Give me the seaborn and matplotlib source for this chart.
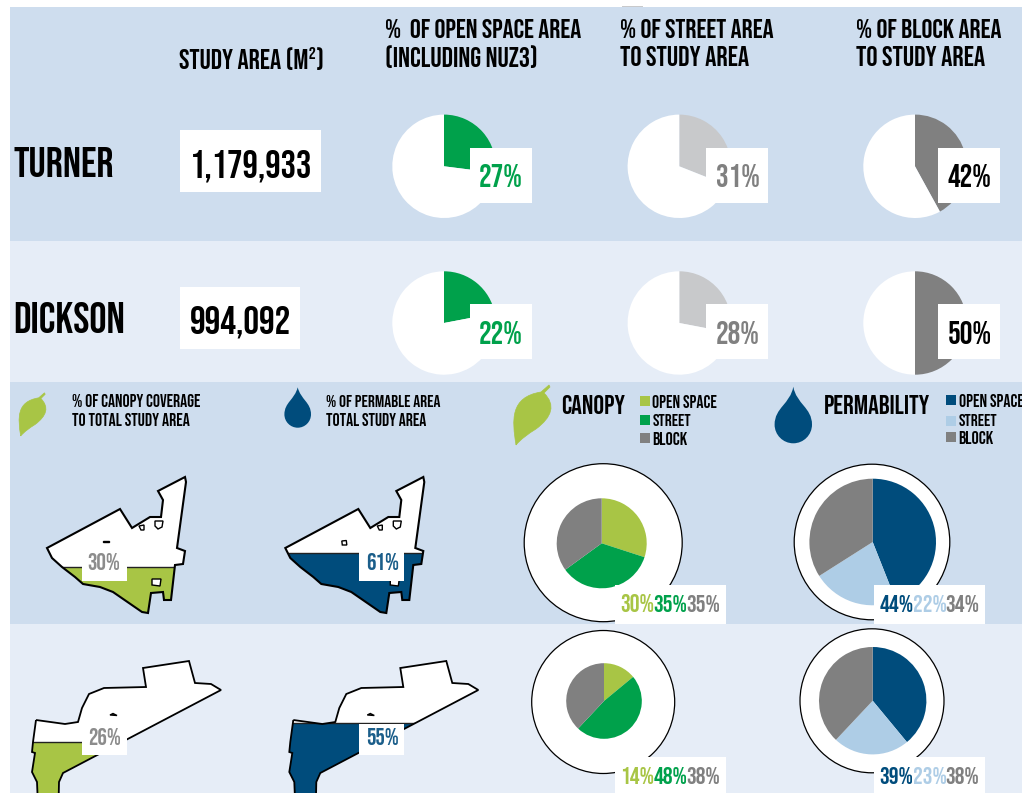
import matplotlib
matplotlib.use("Agg")
import matplotlib.pyplot as plt
from matplotlib.patches import Rectangle, Polygon, Circle, PathPatch
from matplotlib.path import Path
import seaborn as sns

# values
suburbs = ["TURNER", "DICKSON"]
study_area = ["1,179,933", "994,092"]
open_space_pct = [27, 22]
street_pct = [31, 28]
block_pct = [42, 50]
canopy_cover_pct = [30, 26]
permeable_pct = [61, 55]
canopy_split = [[30, 35, 35], [14, 48, 38]]
permability_split = [[44, 22, 34], [39, 23, 38]]

W, H = 1022, 793
BLUE_BG = "#CEDDEE"
PALE_BG = "#E6EDF7"
GREEN = "#00A14B"
LIME = "#A8C545"
GREY = "#808080"
PALE_GREY = "#C8C9CB"
NAVY = "#004C7C"
SKY = "#AECDE6"
canopy_colors = sns.color_palette([LIME, GREEN, GREY])
perm_colors = sns.color_palette([NAVY, SKY, GREY])

sns.set_theme(style="white")
plt.rcParams["font.family"] = ["Bebas Neue", "Barlow Condensed", "Roboto", "DejaVu Sans"]

fig = plt.figure(figsize=(W / 100, H / 100), dpi=100, facecolor="white")
ax = fig.add_axes([0, 0, 1, 1])
renderer = fig.canvas.get_renderer()


def put(x, base, s, width, color="black"):
    # real text, sized so that its width fits the reference
    t = ax.text(x, base, s, ha="left", va="baseline", fontsize=20,
                fontweight="bold", color=color, zorder=5)
    t.set_fontsize(20 * width / t.get_window_extent(renderer).width)
    return t


def box(x0, y0, x1, y1, color="white"):
    ax.add_patch(Rectangle((x0, y0), x1 - x0, y1 - y0, fc=color, ec="none"))


def pie(cx, cy, r, values, colors):
    # y axis is flipped, so this runs clockwise from 12 o'clock
    ax.pie(values, colors=colors, center=(cx, cy), radius=r, startangle=-90,
           counterclock=True, frame=True, wedgeprops={"linewidth": 0})


def leaf(x, y, k):
    verts = [(0, 0), (-4, -25), (-6, -48), (25, -53), (33, -60), (34, -58), (28, -52),
             (40, -40), (36, -28), (20, -16), (12, -11), (5, -6), (0, 0)]
    codes = [Path.MOVETO] + [Path.CURVE4] * 3 + [Path.LINETO] * 3 + [Path.CURVE4] * 6
    pts = [(x + a * k, y + b * k) for a, b in verts]
    ax.add_patch(PathPatch(Path(pts, codes), fc=LIME, ec=LIME, lw=0.5))


def drop(x, top, bottom, r):
    c = bottom - r
    verts = [(x, top), (x + 3, top + (c - top) * 0.45), (x + r, c - r * 0.9), (x + r, c),
             (x + r, c + r * 0.55), (x + r * 0.55, bottom), (x, bottom),
             (x - r * 0.55, bottom), (x - r, c + r * 0.55), (x - r, c),
             (x - r, c - r * 0.9), (x - 3, top + (c - top) * 0.45), (x, top)]
    codes = [Path.MOVETO] + [Path.CURVE4] * 12
    ax.add_patch(PathPatch(Path(verts, codes), fc=NAVY, ec="none"))


# outlines of the two study areas, as traced
turner_shape = [(47, 548), (120, 509), (132, 528), (150, 517), (161, 517), (163, 500),
                (158, 491), (185, 477), (186, 482), (177, 548), (185, 551), (183, 564),
                (175, 565), (171, 600), (164, 600), (163, 592), (151, 593), (148, 613),
                (142, 612), (113, 592), (100, 587), (83, 584), (75, 577), (62, 567),
                (52, 558)]
turner_holes = [[(139, 526), (144, 525), (144, 530), (141, 530)],
                [(155, 521), (163, 521), (162, 527), (158, 529), (155, 526)],
                [(152, 579), (161, 579), (160, 586), (152, 585)]]
dickson_shape = [(36, 720), (65, 724), (78, 722), (82, 708), (89, 694), (104, 688),
                 (146, 687), (143, 668), (189, 661), (195, 683), (211, 684), (221, 690),
                 (63, 773), (59, 782), (58, 830), (39, 830), (37, 782), (32, 772),
                 (35, 753), (32, 752), (33, 742)]


def study_map(shape, holes, dx, level, color, lw=1.5):
    pts = [(x + dx, y) for x, y in shape]
    ax.add_patch(Polygon(pts, fc="white", ec="none"))
    fill = Rectangle((dx, level), 260, 300, fc=color, ec="#222222", lw=1)
    ax.add_patch(fill)
    fill.set_clip_path(Polygon(pts, transform=ax.transData))
    ax.add_patch(Polygon(pts, fc="none", ec="black", lw=lw, joinstyle="miter"))
    for hole in holes:
        ax.add_patch(Polygon([(x + dx, y) for x, y in hole], fc="white", ec="black", lw=1))


# panels
box(10, 7, W, 241, BLUE_BG)
box(10, 241, W, 382, PALE_BG)
box(10, 382, W, 624, BLUE_BG)
box(10, 624, W, H, PALE_BG)
box(622, 5.5, 643, 7, PALE_GREY)

# column headers
put(179, 68.5, "STUDY AREA (M²)", 145)
put(385, 37.5, "%  OF OPEN SPACE AREA", 197)
put(385, 66.5, "(INCLUDING NUZ3)", 153)
put(620, 37.5, "% OF STREET AREA", 153)
put(620, 66.5, "TO STUDY AREA", 129)
put(856, 37.5, "% OF BLOCK AREA", 146)
put(856, 66.5, "TO STUDY AREA", 129)

# top rows: one line per suburb
row_pie_y = [166.3, 323]
row_base = [177, 333.3]
row_pct_base = [187.3, 344.3]
row_box_y = [(148, 203), (304, 359)]
area_box = [(180, 321, 130, 192), (180, 300, 287, 349)]
area_text = [(189.5, 122.5), (189.5, 102)]
name_width = [100, 112]
for i in range(2):
    put(13, row_base[i], suburbs[i], name_width[i])
    x0, x1, y0, y1 = area_box[i]
    box(x0, y0, x1, y1)
    put(area_text[i][0], row_base[i], study_area[i], area_text[i][1])
    columns = [(444, open_space_pct[i], GREEN, GREEN, 470, 479),
               (679.3, street_pct[i], PALE_GREY, GREY, 706, 715.7),
               (915, block_pct[i], GREY, "black", 938, 947.3)]
    for cx, p, c, tc, bx, tx in columns:
        pie(cx, row_pie_y[i], 51.7, [p, 100 - p], [c, "white"])
        box(bx, row_box_y[i][0], bx + 62, row_box_y[i][1])
        put(tx, row_pct_base[i], f"{p}%", 44, tc)

# lower header band
leaf(20.7, 436, 0.72)
drop(297.7, 387.3, 427.7, 13.3)
put(71.7, 407.2, "% OF CANOPY COVERAGE", 128)
put(71.7, 425.5, "TO TOTAL STUDY AREA", 116.5)
put(325.7, 407.2, "% OF PERMABLE AREA", 113.5)
put(325.7, 425.5, "TOTAL STUDY AREA", 100)

leaf(516, 445, 1)
drop(793.3, 386.7, 443.3, 18.7)
put(561, 414, "CANOPY", 64)
put(824.3, 414, "PERMABILITY", 106)

legend_names = ["OPEN SPACE", "STREET", "BLOCK"]
legend_width = [64, 38, 35]
for name, c, sq, base, w in zip(legend_names, canopy_colors, [396, 415, 433],
                                [408.5, 426.5, 445], legend_width):
    box(640, sq, 650, sq + 10, c)
    put(652.5, base, name, w)
for name, c, sq, base, w in zip(legend_names, perm_colors, [395, 415.5, 432],
                                [407.2, 426.5, 444], legend_width):
    box(946, sq, 956, sq + 10, c)
    put(958.7, base, name, w)

# maps
study_map(turner_shape, turner_holes + [[(103, 541), (108.5, 541), (108.5, 541.8), (103, 541.8)]],
          0, 566.7, LIME)
study_map(turner_shape, turner_holes + [[(103.5, 541), (108, 540.5), (108.5, 545), (104, 545)]],
          238.3, 552.7, NAVY)
study_map(dickson_shape, [[(110, 715), (113, 713.5), (117, 715.5)]], 0, 742.3, LIME, lw=1.3)
study_map(dickson_shape, [[(110, 715), (113, 713.5), (117, 715.5)]], 257.3, 723.3, NAVY, lw=1.3)

box(82, 552, 127, 581)
box(359, 552, 404, 581)
box(82, 724, 127, 755)
box(359, 724, 404, 755)
put(87.7, 570.5, f"{canopy_cover_pct[0]}%", 33, "#8C8C8C")
put(365.7, 570.5, f"{permeable_pct[0]}%", 33, "#1B5E8A")
put(87.7, 745, f"{canopy_cover_pct[1]}%", 33, "#8C8C8C")
put(365.7, 745, f"{permeable_pct[1]}%", 33, "#1B5E8A")

# ringed pies
ring_rows = [
    (canopy_split[0], canopy_colors, 603.2, 542.7, 79, 601.7, 543.3, 45, 615, 585, 623.5, 620.5, 612.5),
    (permability_split[0], perm_colors, 872, 542, 77.8, 872.7, 542, 63.3, 874, 585, 623.5, 879.5, 612.5),
    (canopy_split[1], canopy_colors, 603.2, 702, 71.5, 604, 701, 37.8, 615, 757, H, 620.5, 784.5),
    (permability_split[1], perm_colors, 872, 700.8, 72, 872.7, 700.7, 53.7, 874, 757, H, 879.5, 784.5),
]
label_colors = {id(canopy_colors): [LIME, GREEN, GREY], id(perm_colors): [NAVY, SKY, GREY]}
for vals, cols, rx, ry, rr, px, py, pr, bx, by0, by1, tx, base in ring_rows:
    ax.add_patch(Circle((rx, ry), rr, fc="white", ec="black", lw=0.9))
    pie(px, py, pr, vals, cols)
    box(bx, by0, bx + 111, by1)
    for k, v in enumerate(vals):
        put(tx + k * 33, base, f"{v}%", 34, label_colors[id(cols)][k])

ax.set_xlim(0, W)
ax.set_ylim(H, 0)
ax.axis("off")
fig.savefig("out.png", dpi=100, facecolor="white")
